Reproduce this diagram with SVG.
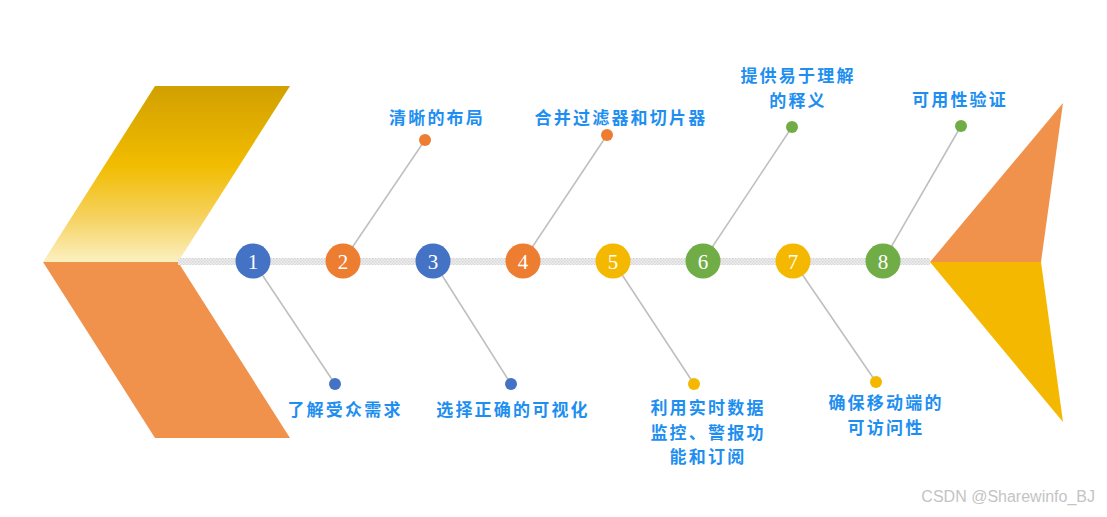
<svg xmlns="http://www.w3.org/2000/svg" width="1107" height="517" viewBox="0 0 1107 517">
<defs>
<linearGradient id="gUp" x1="0" y1="0" x2="0" y2="1">
<stop offset="0" stop-color="#D1A000"/>
<stop offset="0.45" stop-color="#F1BC00"/>
<stop offset="0.75" stop-color="#F6D260"/>
<stop offset="1" stop-color="#FBF0C0"/>
</linearGradient>
<pattern id="hatch" width="3" height="3" patternUnits="userSpaceOnUse">
<rect width="3" height="3" fill="#f0f0f0"/>
<rect width="1.5" height="1.5" fill="#d4d4d4"/>
<rect x="1.5" y="1.5" width="1.5" height="1.5" fill="#dadada"/>
</pattern>
</defs>
<style>
.lbl{font-family:"Noto Sans CJK SC","Noto Sans",sans-serif;font-size:17px;font-weight:bold;fill:#1E8FF0;text-anchor:middle;letter-spacing:2.2px}
.num{font-family:"Liberation Serif",serif;font-size:21px;fill:#ffffff;text-anchor:middle}
.conn{stroke:#BFBFBF;stroke-width:1.6;fill:none}
.blue{fill:#4472C4}.orange{fill:#ED7D31}.gold{fill:#F5B800}.green{fill:#70AD47}
</style>
<rect width="1107" height="517" fill="#ffffff"/>
<g id="head">
<polygon points="155,86 290,86 178,262 43,262" fill="url(#gUp)"/>
<polygon points="43,262 178,262 290,438 155,438" fill="#F0924C"/>
</g>
<g id="tail">
<polygon points="930,262 1063,103 1041,262" fill="#F0924C"/>
<polygon points="930,262 1041,262 1063,422" fill="#F5B800"/>
</g>
<rect id="spine" x="178" y="258" width="752" height="7" fill="url(#hatch)"/>
<g id="connectors">
<line class="conn" x1="253" y1="261" x2="335" y2="384"/>
<line class="conn" x1="343" y1="261" x2="425" y2="140"/>
<line class="conn" x1="433" y1="261" x2="511" y2="384"/>
<line class="conn" x1="523" y1="261" x2="607" y2="135"/>
<line class="conn" x1="613" y1="261" x2="694" y2="384"/>
<line class="conn" x1="703" y1="261" x2="792" y2="127"/>
<line class="conn" x1="793" y1="261" x2="876" y2="382"/>
<line class="conn" x1="883" y1="261" x2="961" y2="126"/>
</g>
<g id="n1"><circle class="blue" cx="253" cy="261" r="17.5"/><text class="num" x="253" y="268.5">1</text><circle class="blue" cx="335" cy="384" r="6"/><text class="lbl" x="345" y="416">了解受众需求</text></g>
<g id="n2"><circle class="orange" cx="343" cy="261" r="17.5"/><text class="num" x="343" y="268.5">2</text><circle class="orange" cx="425" cy="140" r="6"/><text class="lbl" x="437" y="124">清晰的布局</text></g>
<g id="n3"><circle class="blue" cx="433" cy="261" r="17.5"/><text class="num" x="433" y="268.5">3</text><circle class="blue" cx="511" cy="384" r="6"/><text class="lbl" x="513" y="416">选择正确的可视化</text></g>
<g id="n4"><circle class="orange" cx="523" cy="261" r="17.5"/><text class="num" x="523" y="268.5">4</text><circle class="orange" cx="607" cy="135" r="6"/><text class="lbl" x="621" y="124">合并过滤器和切片器</text></g>
<g id="n5"><circle class="gold" cx="613" cy="261" r="17.5"/><text class="num" x="613" y="268.5">5</text><circle class="gold" cx="694" cy="384" r="6"/><text class="lbl" x="708" y="414">利用实时数据</text><text class="lbl" x="708" y="438.5">监控、警报功</text><text class="lbl" x="708" y="463">能和订阅</text></g>
<g id="n6"><circle class="green" cx="703" cy="261" r="17.5"/><text class="num" x="703" y="268.5">6</text><circle class="green" cx="792" cy="127" r="6"/><text class="lbl" x="798" y="82">提供易于理解</text><text class="lbl" x="798" y="106.5">的释义</text></g>
<g id="n7"><circle class="gold" cx="793" cy="261" r="17.5"/><text class="num" x="793" y="268.5">7</text><circle class="gold" cx="876" cy="382" r="6"/><text class="lbl" x="886" y="409">确保移动端的</text><text class="lbl" x="886" y="433.5">可访问性</text></g>
<g id="n8"><circle class="green" cx="883" cy="261" r="17.5"/><text class="num" x="883" y="268.5">8</text><circle class="green" cx="961" cy="126" r="6"/><text class="lbl" x="960" y="106">可用性验证</text></g>
<text x="1095" y="502" font-family="Liberation Sans,Arial,sans-serif" font-size="16" fill="#C4C4C4" text-anchor="end">CSDN @Sharewinfo_BJ</text>
</svg>
